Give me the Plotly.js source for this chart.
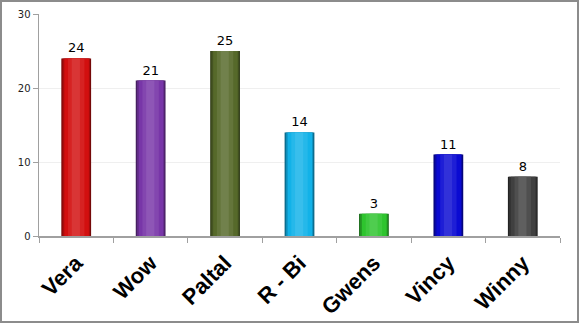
<!DOCTYPE html>
<html><head><meta charset="utf-8">
<script src="https://cdn.plot.ly/plotly-3.0.1.min.js"></script>
<style>
html,body{margin:0;padding:0;background:#fff;}
#wrap{position:relative;width:579px;height:323px;}
#chart{width:579px;height:323px;}
#frame{position:absolute;left:0;top:0;width:575px;height:319px;border:2px solid #8c8c8c;pointer-events:none;}
</style></head>
<body><div id="wrap"><div id="chart"></div><div id="frame"></div></div>
<script>
const categories = ["Vera", "Wow", "Paltal", "R - Bi", "Gwens", "Vincy", "Winny"];
const values = [24, 21, 25, 14, 3, 11, 8];
const barColors = ["#d20f0f", "#7836a8", "#56692a", "#12b2e8", "#2ec42e", "#0a0ad2", "#404040"];

function mix(hex, target, t) {
  const n = parseInt(hex.slice(1), 16);
  const r = (n >> 16) & 255, g = (n >> 8) & 255, b = n & 255;
  const tv = target === 'w' ? 255 : 0;
  const f = v => Math.round(v + (tv - v) * t);
  return 'rgb(' + f(r) + ',' + f(g) + ',' + f(b) + ')';
}

// cylinder shading layers: [offset, width, target, amount]
const layers = [
  [-0.2, 0.4, 'k', 0.45],
  [-0.185, 0.37, 'k', 0.2],
  [-0.16, 0.33, 'k', 0.0],
  [-0.11, 0.22, 'w', 0.08],
  [-0.06, 0.11, 'w', 0.16]
];

const traces = layers.map((L, i) => ({
  type: 'bar',
  x: categories,
  y: values,
  offset: L[0],
  width: L[1],
  marker: {color: barColors.map(c => mix(c, L[2], L[3])), line: {width: 0}},
  hoverinfo: 'skip',
  text: i === 0 ? values.map(String) : undefined,
  textposition: i === 0 ? 'outside' : 'none',
  textfont: {family: 'DejaVu Sans', size: 13, color: '#000'},
  cliponaxis: false,
  showlegend: false
}));

const layout = {
  width: 579, height: 323,
  margin: {l: 39, r: 19, t: 14, b: 87},
  barmode: 'overlay',
  paper_bgcolor: '#fff', plot_bgcolor: '#fff',
  xaxis: {
    type: 'category',
    tickson: 'boundaries',
    ticks: 'outside', ticklen: 5, tickcolor: '#a0a0a0',
    showline: true, linecolor: '#a0a0a0', linewidth: 1.5,
    showgrid: false,
    tickangle: -45,
    ticklabelstandoff: 4,
    tickfont: {family: 'Liberation Sans', size: 22, color: '#000', weight: 'bold'}
  },
  yaxis: {
    range: [0, 30], dtick: 10,
    ticks: 'outside', ticklen: 5, tickcolor: '#a0a0a0',
    showline: true, linecolor: '#a0a0a0', linewidth: 1.5,
    gridcolor: '#efefef', zeroline: false,
    tickfont: {family: 'DejaVu Sans', size: 10, color: '#222'}
  }
};

Plotly.newPlot('chart', traces, layout, {staticPlot: true, displayModeBar: false});
</script></body></html>
